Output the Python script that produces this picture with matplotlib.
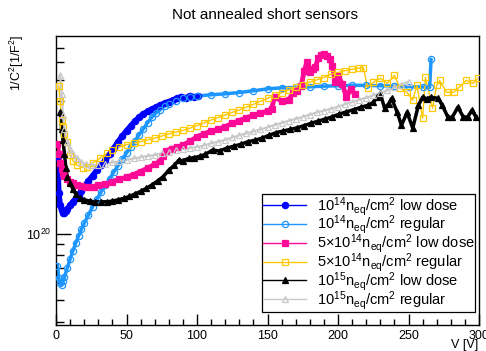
import matplotlib
matplotlib.use("Agg")
import matplotlib.pyplot as plt
from matplotlib.ticker import MultipleLocator, NullFormatter, LogLocator
import numpy as np

plt.rcParams['font.family'] = ['Liberation Sans', 'DejaVu Sans']
plt.rcParams['mathtext.fontset'] = 'custom'
plt.rcParams['mathtext.rm'] = 'Liberation Sans'
plt.rcParams['mathtext.it'] = 'Liberation Sans:italic'

# 1e14 low dose (values in units of 1e20 1/F^2)
v_1e14_low = [1, 2, 3, 4, 5, 6, 7, 8, 10, 12, 14, 16, 18, 20, 23, 26, 29, 32, 35, 38,
              41, 44, 47, 50, 53, 56, 59, 62, 65, 68, 71, 74, 77, 80, 83, 86, 89, 92,
              95, 98, 101]
c_1e14_low = [2.23, 1.53, 1.35, 1.28, 1.25, 1.25, 1.27, 1.30, 1.35, 1.40, 1.45, 1.51,
              1.57, 1.64, 1.74, 1.84, 1.95, 2.05, 2.16, 2.30, 2.45, 2.62, 2.78, 2.94,
              3.09, 3.25, 3.38, 3.50, 3.60, 3.68, 3.76, 3.84, 3.92, 3.98, 4.05, 4.12,
              4.20, 4.14, 4.24, 4.17, 4.22]

# 1e14 regular
v_1e14_reg = [1, 2, 3, 4, 5, 6, 8, 10, 12, 14, 16, 18, 20, 23, 26, 29, 32, 35, 38, 41,
              44, 47, 50, 53, 56, 59, 62, 65, 68, 71, 74, 77, 80, 85, 90, 95, 100, 110,
              120, 130, 140, 150, 160, 170, 180, 190, 200, 210, 220, 230, 240, 250, 260,
              265, 266]
c_1e14_reg = [0.72, 0.63, 0.60, 0.59, 0.61, 0.64, 0.70, 0.77, 0.84, 0.91, 0.98, 1.05,
              1.12, 1.22, 1.33, 1.44, 1.55, 1.66, 1.78, 1.91, 2.04, 2.18, 2.33, 2.48,
              2.64, 2.82, 3.00, 3.20, 3.38, 3.54, 3.66, 3.80, 3.90, 4.02, 4.12, 4.18,
              4.22, 4.28, 4.32, 4.38, 4.46, 4.55, 4.60, 4.62, 4.65, 4.68, 4.70, 4.72,
              4.72, 4.70, 4.68, 4.66, 4.64, 4.62, 6.20]

# 5e14 low dose
v_5e14_low = [1, 2, 3, 4, 5, 6, 8, 10, 12, 15, 18, 21, 24, 27, 30, 35, 40, 45, 50, 55,
              60, 65, 70, 74, 76, 78, 82, 86, 90, 95, 100, 105, 110, 115, 120, 125, 130,
              135, 140, 145, 150, 153, 155, 160, 165, 168, 171, 174, 176, 178, 180, 182,
              184, 186, 188, 190, 192, 194, 196, 198, 200, 203, 206, 209, 212]
c_5e14_low = [2.55, 2.30, 2.10, 1.98, 1.90, 1.84, 1.77, 1.73, 1.70, 1.67, 1.65, 1.63,
              1.63, 1.64, 1.66, 1.69, 1.73, 1.77, 1.81, 1.86, 1.92, 1.99, 2.07, 2.14,
              2.25, 2.38, 2.44, 2.48, 2.53, 2.63, 2.76, 2.85, 2.92, 2.98, 3.07, 3.17,
              3.27, 3.36, 3.45, 3.53, 3.61, 3.70, 4.20, 4.00, 4.05, 4.35, 4.45, 4.70,
              5.50, 6.00, 5.40, 5.60, 5.70, 6.30, 6.50, 6.55, 6.40, 6.20, 5.80, 4.90,
              5.20, 4.80, 4.17, 4.55, 4.30]

# 5e14 regular
v_5e14_reg = [2, 3, 4, 5, 6, 8, 10, 12, 15, 19, 22, 26, 31, 36, 40, 45, 50, 55, 60, 65,
              70, 75, 80, 85, 90, 95, 100, 105, 110, 115, 120, 125, 130, 135, 140, 145,
              150, 155, 160, 165, 170, 175, 180, 185, 190, 195, 200, 205, 210, 215, 218,
              221, 225, 230, 235, 240, 244, 249, 253, 256, 260, 262, 267, 270, 272, 277,
              282, 286, 291, 296, 299]
c_5e14_reg = [4.70, 4.00, 3.30, 3.05, 2.85, 2.60, 2.28, 2.15, 2.05, 2.00, 2.02, 2.10,
              2.20, 2.32, 2.40, 2.48, 2.54, 2.58, 2.62, 2.67, 2.72, 2.78, 2.84, 2.90,
              2.95, 3.02, 3.10, 3.19, 3.29, 3.37, 3.46, 3.56, 3.65, 3.76, 3.87, 4.00,
              4.12, 4.25, 4.37, 4.50, 4.62, 4.75, 4.88, 5.00, 5.12, 5.30, 5.40, 5.50,
              5.58, 5.65, 5.68, 4.60, 4.87, 5.08, 4.82, 5.24, 4.58, 4.39, 4.04, 4.72,
              3.35, 5.13, 3.72, 4.72, 4.97, 4.39, 4.39, 4.63, 4.97, 4.82, 5.08]

# 1e15 low dose
v_1e15_low = [3, 4, 5, 6, 7, 8, 10, 12, 14, 17, 20, 24, 28, 32, 36, 40, 44, 48, 52, 56,
              60, 64, 68, 72, 76, 80, 84, 87, 90, 94, 98, 102, 106, 111, 116, 121, 126,
              131, 136, 141, 146, 151, 156, 161, 166, 171, 176, 181, 186, 191, 196, 201,
              206, 211, 216, 221, 225, 228, 230, 233, 236, 238, 242, 245, 249, 253, 257,
              260, 263, 266, 271, 274, 278, 281, 285, 289, 292, 295, 298]
c_1e15_low = [3.56, 3.00, 2.66, 2.30, 2.00, 1.82, 1.70, 1.60, 1.52, 1.46, 1.43, 1.41,
              1.40, 1.40, 1.40, 1.41, 1.43, 1.45, 1.48, 1.52, 1.56, 1.61, 1.67, 1.74,
              1.82, 1.95, 2.05, 2.16, 2.15, 2.20, 2.22, 2.25, 2.30, 2.40, 2.38, 2.45,
              2.50, 2.55, 2.62, 2.66, 2.72, 2.80, 2.88, 2.93, 2.98, 3.03, 3.10, 3.18,
              3.25, 3.32, 3.40, 3.50, 3.58, 3.66, 3.75, 3.83, 3.95, 4.17, 4.34, 3.72,
              3.90, 4.12, 3.56, 3.11, 3.56, 3.02, 3.83, 4.17, 4.10, 4.17, 4.12, 3.83,
              3.38, 3.38, 3.76, 3.38, 3.40, 3.64, 3.38]

# 1e15 regular
v_1e15_reg = [3, 4, 5, 6, 8, 10, 12, 15, 18, 21, 25, 30, 35, 40, 45, 50, 55, 60, 65, 70,
              75, 80, 85, 90, 95, 100, 105, 110, 115, 120, 125, 130, 135, 140, 145, 150,
              155, 160, 165, 170, 175, 180, 185, 190, 195, 200, 205, 210, 215, 220, 225,
              230, 235, 240, 245, 250]
c_1e15_reg = [5.24, 4.30, 3.45, 3.00, 2.62, 2.42, 2.30, 2.20, 2.12, 2.07, 2.05, 2.06,
              2.08, 2.11, 2.14, 2.17, 2.20, 2.23, 2.26, 2.28, 2.32, 2.36, 2.40, 2.43,
              2.46, 2.48, 2.52, 2.58, 2.62, 2.68, 2.74, 2.80, 2.86, 2.92, 2.98, 3.05,
              3.12, 3.19, 3.26, 3.33, 3.40, 3.48, 3.56, 3.63, 3.70, 3.78, 3.88, 3.97,
              4.06, 4.15, 4.25, 4.36, 4.48, 4.62, 4.76, 4.90]

labels = [
    r"$\mathregular{10^{14}n_{eq}/cm^{2}}$ low dose",
    r"$\mathregular{10^{14}n_{eq}/cm^{2}}$ regular",
    r"$\mathregular{5{\times}10^{14}n_{eq}/cm^{2}}$ low dose",
    r"$\mathregular{5{\times}10^{14}n_{eq}/cm^{2}}$ regular",
    r"$\mathregular{10^{15}n_{eq}/cm^{2}}$ low dose",
    r"$\mathregular{10^{15}n_{eq}/cm^{2}}$ regular",
]
colors = ['#0000ff', '#1e96ff', '#ff0a96', '#ffc800', '#000000', '#c8c8c8']
markers = ['o', 'o', 's', 's', '^', '^']
filled = [True, False, True, False, True, False]
band_width = [4.0, 2.5, 3.5, 1.0, 2.5, 1.5]

xs = [v_1e14_low, v_1e14_reg, v_5e14_low, v_5e14_reg, v_1e15_low, v_1e15_reg]
ys = [c_1e14_low, c_1e14_reg, c_5e14_low, c_5e14_reg, c_1e15_low, c_1e15_reg]

fig = plt.figure(figsize=(4.86, 3.51), dpi=100)
ax = fig.add_axes([56/486, 26/351, 423/486, 289/351])

for i in range(6):
    col = colors[i]
    ax.plot(xs[i], np.array(ys[i]) * 1e20, color=col, linewidth=band_width[i],
            solid_capstyle='round', zorder=2)
    ax.plot(xs[i], np.array(ys[i]) * 1e20, color=col, marker=markers[i], markersize=4.5,
            markerfacecolor=col if filled[i] else 'none', markeredgecolor=col,
            markeredgewidth=0.9, linestyle='none', zorder=3)
    # legend proxy: thin line plus marker, like the ROOT legend
    ax.plot([], [], color=col, marker=markers[i], markersize=4.5,
            markerfacecolor=col if filled[i] else 'none', markeredgecolor=col,
            markeredgewidth=0.9, linewidth=1.0, label=labels[i])

ax.set_yscale('log')
ax.set_xlim(0, 300)
ax.set_ylim(3.87e19, 7.9e20)
ax.xaxis.set_major_locator(MultipleLocator(50))
ax.xaxis.set_minor_locator(MultipleLocator(10))
ax.yaxis.set_major_locator(LogLocator(base=10))
ax.yaxis.set_minor_locator(LogLocator(base=10, subs=np.arange(2, 10)))
ax.yaxis.set_minor_formatter(NullFormatter())
ax.tick_params(which='both', direction='in', top=False, right=False, labelsize=9)
ax.tick_params(axis='x', which='major', length=8, width=1)
ax.tick_params(axis='x', which='minor', length=4.5, width=1)
ax.tick_params(axis='y', which='major', length=11, width=1)
ax.tick_params(axis='y', which='minor', length=5.5, width=1)
for s in ax.spines.values():
    s.set_linewidth(1)

fig.text(265/486, 1 - 15/351, "Not annealed short sensors", ha='center', va='center', fontsize=11)
fig.text(17/486, 1 - 35/351, r"1/C$^{2}$[1/F$^{2}$]", rotation=90, ha='center', va='top', fontsize=9)
fig.text(478/486, 1 - 345/351, "V [V]", ha='right', va='center', fontsize=9)

leg = ax.legend(loc='upper left', bbox_to_anchor=(206/423, 131/289), fontsize=10.5,
                frameon=True, fancybox=False, edgecolor='black', framealpha=1,
                borderpad=0.05, labelspacing=-0.28, handlelength=3.0, handletextpad=0.7,
                borderaxespad=0)
leg.get_frame().set_linewidth(0.9)

fig.savefig("out.png", dpi=100)
